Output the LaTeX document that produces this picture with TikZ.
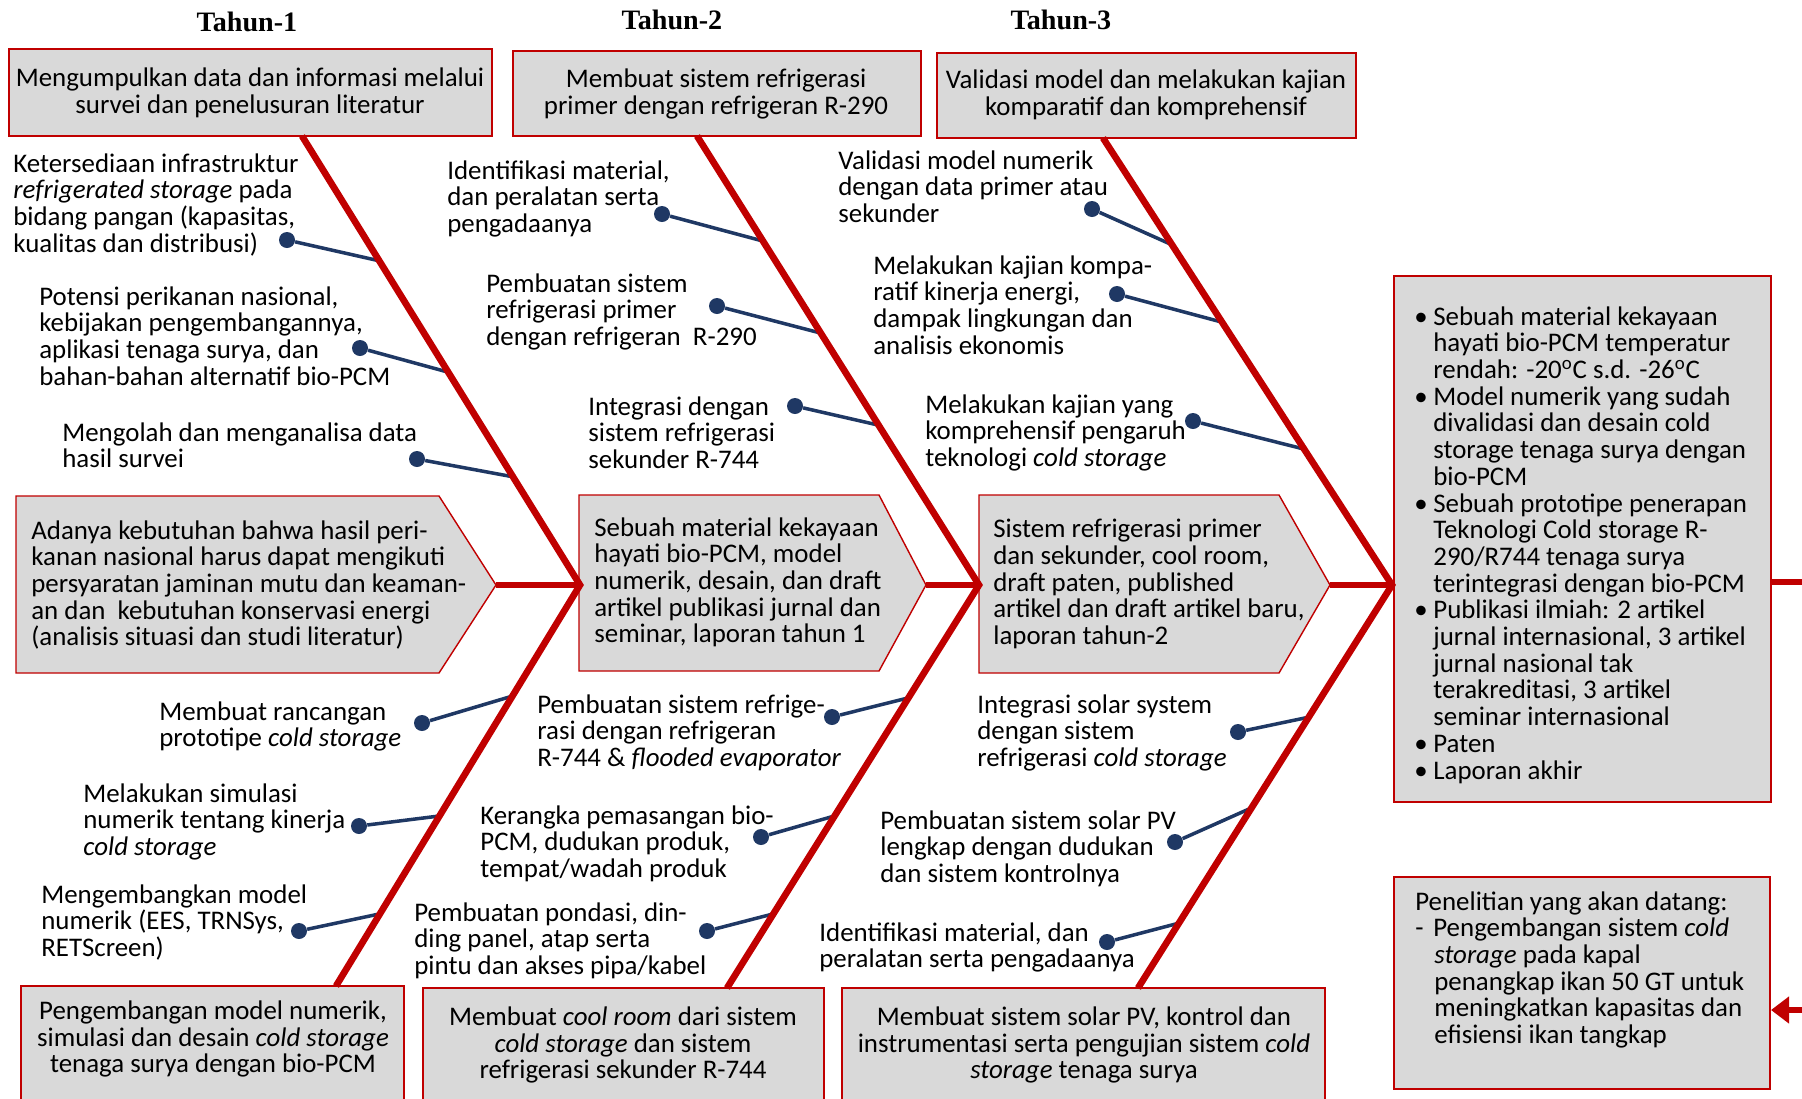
\documentclass[tikz,border=0pt]{standalone}
\usepackage{fontspec}
\setmainfont{Carlito}
\newfontfamily\tahunfont{Liberation Serif}
\usetikzlibrary{calc,arrows.meta}
\definecolor{merah}{HTML}{C00000}
\definecolor{biru}{HTML}{1F3864}
\definecolor{abu}{HTML}{D9D9D9}
\tikzset{
  tulang/.style={merah,line width=3.8pt},
  ranting/.style={biru,line width=2pt},
  titik/.style={circle,fill=biru,inner sep=0pt,minimum size=3.2mm},
  kotak/.style={draw=merah,fill=abu,line width=0.8pt},
  ket/.style={anchor=north west,align=left,inner sep=0pt},
  judul/.style={font=\tahunfont\bfseries\fontsize{16}{18}\selectfont}
}
\begin{document}
\begin{tikzpicture}[x=0.2mm,y=-0.2mm,font=\fontsize{15.3}{15.2}\selectfont]
\useasboundingbox (0,0) rectangle (1802,1098);
\def\butir{\makebox[3.8mm][l]{\textbullet}}
\def\geser{\hspace*{3.8mm}}

\node[judul] (tahun1) at (247,22) {Tahun-1};
\node[judul] (tahun2) at (672,20) {Tahun-2};
\node[judul] (tahun3) at (1061,20) {Tahun-3};

\draw[kotak] (9,49) rectangle (492,136);
\draw[kotak] (513,51) rectangle (921,136);
\draw[kotak] (937,53) rectangle (1356,138);
\node[align=center] (kegiatan1) at (250,93) {Mengumpulkan data dan informasi melalui\\survei dan penelusuran literatur};
\node[align=center] (kegiatan2) at (716,94) {Membuat sistem refrigerasi\\primer dengan refrigeran R-290};
\node[align=center] (kegiatan3) at (1146,95) {Validasi model dan melakukan kajian\\komparatif dan komprehensif};

\draw[kotak] (21,986) rectangle (404,1110);
\draw[kotak] (423,988) rectangle (824,1110);
\draw[kotak] (842,988) rectangle (1325,1110);
\node[align=center] (kegiatan4) at (213,1039) {Pengembangan model numerik,\\simulasi dan desain \textit{cold storage}\\tenaga surya dengan bio-PCM};
\node[align=center] (kegiatan5) at (623,1045) {Membuat \textit{cool room} dari sistem\\\textit{cold storage} dan sistem\\refrigerasi sekunder R-744};
\node[align=center] (kegiatan6) at (1084,1045) {Membuat sistem solar PV, kontrol dan\\instrumentasi serta pengujian sistem \textit{cold}\\\textit{storage} tenaga surya};

\draw[kotak] (16,496) -- (439,496) -- (496,585) -- (439,673) -- (16,673) -- cycle;
\draw[kotak] (579,495) -- (879,495) -- (926,585) -- (879,671) -- (579,671) -- cycle;
\draw[kotak] (979,495) -- (1279,495) -- (1330,585) -- (1279,673) -- (979,673) -- cycle;
\node[ket] (capaian0) at (31,520) {Adanya kebutuhan bahwa hasil peri-\\kanan nasional harus dapat mengikuti\\persyaratan jaminan mutu dan keaman-\\an dan\ \ kebutuhan konservasi energi\\(analisis situasi dan studi literatur)};
\node[ket] (capaian1) at (594,517) {Sebuah material kekayaan\\hayati bio-PCM, model\\numerik, desain, dan draft\\artikel publikasi jurnal dan\\seminar, laporan tahun 1};
\node[ket] (capaian2) at (993,519) {Sistem refrigerasi primer\\dan sekunder, cool room,\\draft paten, published\\artikel dan draft artikel baru,\\laporan tahun-2};

\draw[kotak] (1394,276) rectangle (1771,802);
\draw[kotak] (1394,877) rectangle (1770,1089);
\node[ket] (luaran) at (1414,306) {\butir Sebuah material kekayaan\\\geser hayati bio-PCM temperatur\\\geser rendah: -20\textsuperscript{o}C s.d. -26\textsuperscript{o}C\\\butir Model numerik yang sudah\\\geser divalidasi dan desain cold\\\geser storage tenaga surya dengan\\\geser bio-PCM\\\butir Sebuah prototipe penerapan\\\geser Teknologi Cold storage R-\\\geser 290/R744 tenaga surya\\\geser terintegrasi dengan bio-PCM\\\butir Publikasi ilmiah: 2 artikel\\\geser jurnal internasional, 3 artikel\\\geser jurnal nasional tak\\\geser terakreditasi, 3 artikel\\\geser seminar internasional\\\butir Paten\\\butir Laporan akhir};
\node[ket] (lanjutan) at (1415,891) {Penelitian yang akan datang:\\\makebox[3.6mm][l]{-}Pengembangan sistem \textit{cold}\\\geser\textit{storage} pada kapal\\\geser penangkap ikan 50 GT untuk\\\geser meningkatkan kapasitas dan\\\geser efisiensi ikan tangkap};

\coordinate (t1) at (302,136); \coordinate (j1) at (580,585); \coordinate (b1) at (336,986);
\coordinate (t2) at (697,136); \coordinate (j2) at (979,585); \coordinate (b2) at (727,988);
\coordinate (t3) at (1103,138); \coordinate (j3) at (1392,585); \coordinate (b3) at (1138,988);
\coordinate (ujung0) at (496,585); \coordinate (ujung1) at (926,585); \coordinate (ujung2) at (1330,585);

\foreach \n/\dx/\dy/\p/\q/\f in {
  1/287/240/t1/j1/0.278, 2/360/348/t1/j1/0.526, 3/417/459/t1/j1/0.759,
  4/422/723/j1/b1/0.277, 5/359/826/j1/b1/0.576, 6/299/931/j1/b1/0.820,
  7/662/214/t2/j2/0.234, 8/717/306/t2/j2/0.439, 9/795/406/t2/j2/0.644,
  10/832/717/j2/b2/0.280, 11/761/837/j2/b2/0.573, 12/707/931/j2/b2/0.816,
  13/1092/209/t3/j3/0.239, 14/1117/294/t3/j3/0.412, 15/1193/421/t3/j3/0.696,
  16/1238/732/j3/b3/0.328, 17/1175/842/j3/b3/0.553, 18/1107/942/j3/b3/0.839} {
  \node[titik] (d\n) at (\dx,\dy) {};
  \coordinate (e\n) at ($(\p)!\f!(\q)$);
  \draw[ranting] (d\n) -- (e\n);
}

\draw[tulang] (t1) -- (j1) -- (b1);
\draw[tulang] (t2) -- (j2) -- (b2);
\draw[tulang] (t3) -- (j3) -- (b3);
\draw[tulang] (ujung0) -- (j1);
\draw[tulang] (ujung1) -- (j2);
\draw[tulang] (ujung2) -- (j3);
\coordinate (keluar) at (1771,582); \coordinate (tepi1) at (1802,582);
\draw[tulang] (keluar) -- (tepi1);
\coordinate (masuk) at (1771,1010); \coordinate (tepi2) at (1802,1010);
\draw[tulang,-{Triangle[length=3.6mm,width=5.2mm]}] (tepi2) -- (masuk);

\node[ket] (ket1) at (13,153) {Ketersediaan infrastruktur\\\textit{refrigerated storage} pada\\bidang pangan (kapasitas,\\kualitas dan distribusi)};
\node[ket] (ket2) at (39,286) {Potensi perikanan nasional,\\kebijakan pengembangannya,\\aplikasi tenaga surya, dan\\bahan-bahan alternatif bio-PCM};
\node[ket] (ket3) at (62,422) {Mengolah dan menganalisa data\\hasil survei};
\node[ket] (ket4) at (159,701) {Membuat rancangan\\prototipe \textit{cold storage}};
\node[ket] (ket5) at (83,783) {Melakukan simulasi\\numerik tentang kinerja\\\textit{cold storage}};
\node[ket] (ket6) at (41,884) {Mengembangkan model\\numerik (EES, TRNSys,\\RETScreen)};
\node[ket] (ket7) at (447,160) {Identifikasi material,\\dan peralatan serta\\pengadaanya};
\node[ket] (ket8) at (486,273) {Pembuatan sistem\\refrigerasi primer\\dengan refrigeran\ \ R-290};
\node[ket] (ket9) at (588,396) {Integrasi dengan\\sistem refrigerasi\\sekunder R-744};
\node[ket] (ket10) at (537,694) {Pembuatan sistem refrige-\\rasi dengan refrigeran\\R-744 \& \textit{flooded evaporator}};
\node[ket] (ket11) at (480,805) {Kerangka pemasangan bio-\\PCM, dudukan produk,\\tempat/wadah produk};
\node[ket] (ket12) at (414,902) {Pembuatan pondasi, din-\\ding panel, atap serta\\pintu dan akses pipa/kabel};
\node[ket] (ket13) at (838,150) {Validasi model numerik\\dengan data primer atau\\sekunder};
\node[ket] (ket14) at (873,255) {Melakukan kajian kompa-\\ratif kinerja energi,\\dampak lingkungan dan\\analisis ekonomis};
\node[ket] (ket15) at (925,394) {Melakukan kajian yang\\komprehensif pengaruh\\teknologi \textit{cold storage}};
\node[ket] (ket16) at (977,694) {Integrasi solar system\\dengan sistem\\refrigerasi \textit{cold storage}};
\node[ket] (ket17) at (880,810) {Pembuatan sistem solar PV\\lengkap dengan dudukan\\dan sistem kontrolnya};
\node[ket] (ket18) at (819,922) {Identifikasi material, dan\\peralatan serta pengadaanya};
\end{tikzpicture}
\end{document}
